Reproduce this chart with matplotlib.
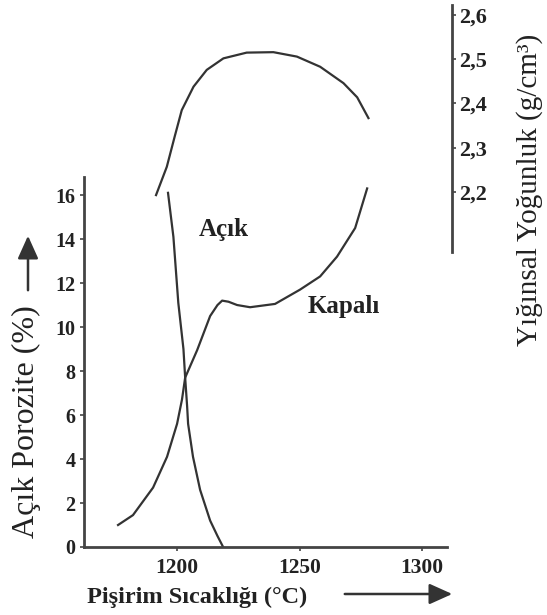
import matplotlib
matplotlib.use("Agg")
import matplotlib.pyplot as plt

# firing temperature (C) vs. bulk density (g/cm3)
temp_density = [1191.4, 1195.8, 1199.0, 1201.9, 1206.7, 1212.1, 1218.9,
                1228.4, 1239.3, 1248.9, 1258.4, 1267.9, 1273.5, 1278.1]
density = [2.193, 2.257, 2.325, 2.385, 2.438, 2.476, 2.502,
           2.515, 2.516, 2.506, 2.483, 2.446, 2.414, 2.367]

# open porosity (%)
temp_acik = [1196.3, 1198.5, 1200.5, 1202.6, 1203.3, 1204.1, 1204.5,
             1206.5, 1209.4, 1213.5, 1216.5, 1218.8]
acik = [16.1, 14.1, 11.1, 9.0, 7.7, 6.4, 5.6, 4.1, 2.6, 1.2, 0.5, 0.0]

# closed porosity (%)
temp_kapali = [1175.9, 1182.0, 1190.2, 1195.9, 1200.0, 1202.0, 1203.3,
               1208.2, 1213.5, 1216.5, 1218.4, 1221.0, 1224.5, 1229.8,
               1240.0, 1250.2, 1258.4, 1265.3, 1272.7, 1277.6]
kapali = [1.0, 1.45, 2.7, 4.1, 5.6, 6.7, 7.7, 8.95, 10.5, 11.0, 11.2,
          11.15, 11.0, 10.9, 11.05, 11.7, 12.3, 13.2, 14.5, 16.3]

x_ticks = [1200, 1250, 1300]
por_ticks = [0, 2, 4, 6, 8, 10, 12, 14, 16]
den_ticks = [2.2, 2.3, 2.4, 2.5, 2.6]
den_labels = ["2,2", "2,3", "2,4", "2,5", "2,6"]

W, H = 547, 615
plt.rcParams["font.family"] = ["Liberation Serif", "DejaVu Serif"]
ink = "#333333"
axis_ink = "#444444"
txt = "#222222"

fig = plt.figure(figsize=(W / 100, H / 100), dpi=100)

def fx(px):
    return px / W

def fy(py):
    return 1 - py / H

# porosity axes
ax = fig.add_axes([fx(84), fy(547), (447 - 84) / W, (547 - 177) / H])
ax.set_xlim(1162, 1310.2)
ax.set_ylim(0, 16.82)
ax.plot(temp_acik, acik, color=ink, lw=1.6)
ax.plot(temp_kapali, kapali, color=ink, lw=1.6)
for s in ["top", "right"]:
    ax.spines[s].set_visible(False)
for s in ["left", "bottom"]:
    ax.spines[s].set_linewidth(2.0)
    ax.spines[s].set_color(axis_ink)
ax.set_xticks(x_ticks)
ax.set_yticks(por_ticks)
ax.tick_params(axis="both", direction="out", length=3, width=1.2,
               color=axis_ink, labelcolor=txt)
ax.tick_params(axis="y", pad=3, labelsize=14.5)
ax.tick_params(axis="x", pad=5, labelsize=15.5)
for lab in ax.get_xticklabels() + ax.get_yticklabels():
    lab.set_fontweight("bold")

ax.text(1219.2, 14.45, "Açık", ha="center", va="center",
        fontsize=18, fontweight="bold", color=txt)
ax.text(1268.2, 10.95, "Kapalı", ha="center", va="center",
        fontsize=18, fontweight="bold", color=txt)

# bulk density axes
ax2 = fig.add_axes([fx(84), fy(252), (452 - 84) / W, (252 - 5) / H])
ax2.set_xlim(1162, 1312.2)
ax2.set_ylim(2.0644, 2.6226)
ax2.patch.set_alpha(0)
ax2.plot(temp_density, density, color=ink, lw=1.6)
for s in ["top", "left", "bottom"]:
    ax2.spines[s].set_visible(False)
ax2.spines["right"].set_linewidth(2.0)
ax2.spines["right"].set_color(axis_ink)
ax2.set_xticks([])
ax2.yaxis.tick_right()
ax2.set_yticks(den_ticks)
ax2.set_yticklabels(den_labels)
ax2.tick_params(axis="y", direction="out", length=3, width=1.2, pad=2,
                color=axis_ink, labelcolor=txt, labelsize=16)
for lab in ax2.get_yticklabels():
    lab.set_fontweight("bold")

# axis titles
fig.text(fx(87), fy(597), "Pişirim Sıcaklığı (°C)", ha="left", va="center",
         fontsize=17.5, fontweight="bold", color=txt)
fig.text(fx(26), fy(422), "Açık Porozite (%)", ha="center", va="center",
         rotation=90, fontsize=23, color=txt)
fig.text(fx(530), fy(190), "Yığınsal Yoğunluk (g/cm³)", ha="center",
         va="center", rotation=90, fontsize=21, color=txt)

# direction arrows
fig.add_artist(matplotlib.patches.FancyArrowPatch(
    (fx(342), fy(594)), (fx(455), fy(594)), transform=fig.transFigure,
    arrowstyle="-|>,head_length=1.0,head_width=0.45", mutation_scale=14,
    color="#333333", lw=1.8))
fig.add_artist(matplotlib.patches.FancyArrowPatch(
    (fx(28), fy(293)), (fx(28), fy(233)), transform=fig.transFigure,
    arrowstyle="-|>,head_length=1.0,head_width=0.45", mutation_scale=14,
    color="#333333", lw=1.8))

fig.savefig("out.png", dpi=100, facecolor="white")
